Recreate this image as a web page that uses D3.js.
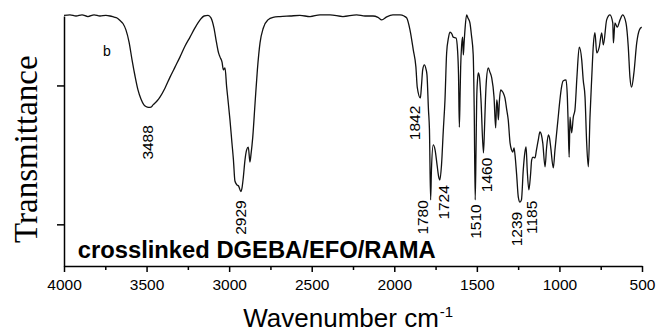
<!DOCTYPE html>
<html><head><meta charset="utf-8">
<script src="https://cdn.jsdelivr.net/npm/d3@7"></script>
<style>html,body{margin:0;padding:0;background:#fff;} svg{display:block;}</style>
</head><body><svg id="c" width="658" height="333"></svg>
<script>
// ---- data ----
const wavenumbers = [4000,3964,3927,3891,3855,3818,3782,3746,3721,3697,3679,3661,3643,3625,3606,3588,3570,3552,3534,3516,3504,3488,3473,3461,3437,3419,3388,3358,3328,3298,3267,3237,3207,3176,3152,3128,3110,3092,3077,3064,3055,3043,3035,3025,3015,3007,2995,2983,2974,2965,2953,2943,2929,2922,2914,2904,2894,2884,2874,2868,2857,2843,2829,2813,2793,2765,2734,2692,2631,2571,2510,2450,2389,2311,2228,2177,2129,2099,2076,2046,2008,1965,1941,1925,1905,1885,1869,1861,1842,1835,1828,1818,1808,1802,1793,1787,1780,1775,1764,1753,1741,1732,1724,1714,1703,1693,1683,1672,1663,1651,1643,1626,1617,1611,1606,1601,1598,1592,1586,1582,1578,1572,1562,1554,1542,1533,1522,1516,1510,1505,1501,1496,1491,1484,1475,1460,1454,1448,1442,1431,1421,1410,1396,1386,1380,1375,1370,1363,1356,1348,1340,1330,1319,1310,1299,1290,1283,1275,1269,1259,1249,1239,1230,1219,1209,1202,1195,1185,1175,1168,1160,1148,1139,1128,1118,1109,1101,1087,1078,1067,1060,1053,1037,1027,1021,1009,997,988,978,960,952,946,941,936,926,916,906,894,880,865,856,845,835,825,815,805,794,785,774,759,744,734,714,694,677,673,664,650,633,617,597,583,573,563,549,532,516,502];
const transmittance = [100.2,100.4,100.0,100.4,99.8,100.4,100.0,100.2,100.0,99.6,99.3,98.4,97.3,95.0,90.6,84.2,78.4,73.4,70.1,68.0,67.4,67.1,67.2,68.0,69.4,70.8,74.1,78.0,81.6,85.2,89.2,92.4,95.7,98.6,100.0,100.2,99.3,95.7,90.6,86.7,85.2,83.4,80.6,81.3,74.4,69.8,62.6,54.3,48.2,40.6,39.2,38.8,36.8,38.1,42.0,48.2,51.8,52.8,47.4,50.0,56.4,68.7,80.6,90.3,95.7,98.6,99.5,99.8,100.0,100.2,99.8,100.4,100.4,99.8,100.4,100.0,100.0,99.5,98.6,99.7,100.4,100.4,100.0,99.3,95.0,87.8,81.6,74.4,70.5,75.2,80.6,82.4,80.9,78.8,66.2,59.0,33.8,44.6,53.6,51.8,46.4,42.4,41.0,46.4,59.0,69.8,86.7,92.1,94.2,93.5,92.4,92.1,87.8,78.8,60.0,73.4,81.6,89.6,92.4,86.0,89.6,95.0,100.4,99.3,97.5,93.2,86.0,66.2,33.8,51.8,69.8,77.0,79.5,78.0,69.8,50.7,59.0,69.8,77.0,81.3,79.8,77.7,70.8,59.7,69.8,68.0,62.6,69.8,73.4,73.0,72.3,70.5,66.2,62.6,54.3,51.8,51.0,52.5,50.0,42.8,34.8,33.0,33.8,44.6,51.0,52.9,44.6,37.4,42.8,48.2,49.2,48.9,51.8,55.4,58.3,57.2,54.3,45.7,52.5,57.2,56.1,52.9,45.3,51.8,55.4,62.6,69.8,74.1,76.6,77.0,70.8,59.0,49.2,63.6,57.9,63.6,66.2,78.0,88.8,84.2,77.0,70.8,54.3,45.7,63.6,77.0,90.0,94.0,86.7,88.8,93.9,89.6,98.6,100.4,97.5,90.3,97.5,96.0,98.6,100.4,97.5,88.8,78.0,74.4,79.5,90.3,95.0,96.0];
const xTickValues = [4000,3500,3000,2500,2000,1500,1000,500];
const xMinorTickValues = [3750,3250,2750,2250,1750,1250,750];
const yTickValues = [25,75];
const peakWavenumbers = [3488,2929,1842,1780,1724,1510,1460,1239,1185];
const peakLabels = ["3488","2929","1842","1780","1724","1510","1460","1239","1185"];
const xDomain = [4000,500];
const yDomain = [10,100];
const xTitle = "Wavenumber cm";
const xTitleSup = "-1";
const yTitle = "Transmittance";
const sampleTag = "b";
const sampleName = "crosslinked DGEBA/EFO/RAMA";

// ---- layout (positions / styles, not data) ----
const plot = {left:64, right:642, top:16, bottom:266};
const labelOffsets = [[-1.6,35],[0,26],[-6,25],[-8,17.5],[4,22.5],[0,21.7],[2.5,22],[-4,27],[2.6,27.5]];

const svg = d3.select("#c");
const x = d3.scaleLinear().domain(xDomain).range([plot.left, plot.right]);
const y = d3.scaleLinear().domain(yDomain).range([plot.bottom, plot.top]);

const pts = wavenumbers.map((w,i)=>[w, transmittance[i]]);
const line = d3.line().x(d=>x(d[0])).y(d=>y(d[1])).curve(d3.curveMonotoneX);
svg.append("path").datum(pts).attr("d", line)
  .attr("fill","none").attr("stroke","#111").attr("stroke-width",1.3).attr("stroke-linejoin","round");

// x axis
const gx = svg.append("g").attr("transform",`translate(0,${plot.bottom})`)
  .call(d3.axisBottom(x).tickValues(xTickValues).tickSize(6).tickSizeOuter(0).tickPadding(7).tickFormat(d3.format("d")));
const gxm = svg.append("g").attr("transform",`translate(0,${plot.bottom})`)
  .call(d3.axisBottom(x).tickValues(xMinorTickValues).tickSize(4).tickSizeOuter(0).tickFormat(""));
gxm.select(".domain").remove();
// y axis
const gy = svg.append("g").attr("transform",`translate(${plot.left},0)`)
  .call(d3.axisLeft(y).tickValues(yTickValues).tickSize(7).tickSizeOuter(0).tickFormat(""));
svg.selectAll(".domain").attr("stroke","#000").attr("stroke-width",1.5);
svg.selectAll(".tick line").attr("stroke","#000").attr("stroke-width",1.5);
gx.selectAll("text").attr("font-family","Liberation Sans, Arial, sans-serif").attr("font-size","15.5px").attr("fill","#000");

// peak labels
const fs = 15.5;
peakWavenumbers.forEach((w,i)=>{
  const v = transmittance[wavenumbers.indexOf(w)];
  const cx = x(w) + labelOffsets[i][0] + 0.36*fs;
  const cy = y(v) + labelOffsets[i][1];
  svg.append("text").attr("transform",`translate(${cx},${cy}) rotate(-90)`)
    .attr("text-anchor","middle").attr("font-family","Liberation Sans, Arial, sans-serif")
    .attr("font-size",fs+"px").attr("fill","#000").text(peakLabels[i]);
});

// annotations
svg.append("text").attr("x",103).attr("y",56).attr("font-family","Liberation Sans, Arial, sans-serif")
  .attr("font-size","14px").attr("fill","#000").text(sampleTag);
svg.append("text").attr("x",77.7).attr("y",258).attr("font-family","Liberation Sans, Arial, sans-serif")
  .attr("font-size","23.5px").attr("font-weight","bold").attr("fill","#000")
  .attr("textLength",358).attr("lengthAdjust","spacingAndGlyphs").text(sampleName);

// axis titles
const xt = svg.append("text").attr("x",243.3).attr("y",326.7).attr("font-family","Liberation Sans, Arial, sans-serif")
  .attr("font-size","26px").attr("fill","#000");
xt.append("tspan").text(xTitle);
xt.append("tspan").attr("font-size","15px").attr("dy",-10).attr("dx",1).text(xTitleSup);

svg.append("text").attr("transform",`translate(36.7,149.2) rotate(-90)`).attr("text-anchor","middle")
  .attr("font-family","Liberation Serif, Times New Roman, serif").attr("font-size","33px").attr("fill","#000").text(yTitle);
</script></body></html>
